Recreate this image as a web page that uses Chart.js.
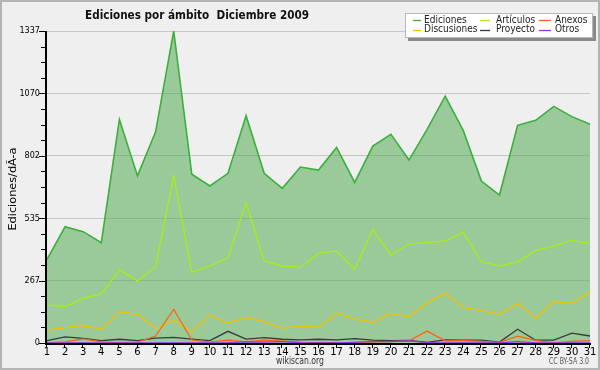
<!DOCTYPE html>
<html><head><meta charset="utf-8">
<script src="https://cdn.jsdelivr.net/npm/chart.js@4/dist/chart.umd.min.js"></script>
<style>html,body{margin:0;padding:0;background:#efeff0;}#wrap{width:600px;height:370px;}</style>
</head><body><div id="wrap"><canvas id="c" width="600" height="370" style="width:600px;height:370px"></canvas></div>
<script>
const days = ['1','2','3','4','5','6','7','8','9','10','11','12','13','14','15','16','17','18','19','20','21','22','23','24','25','26','27','28','29','30','31'];
const ediciones   = [358,498,477,430,958,716,905,1337,723,673,727,974,727,663,754,741,838,688,844,894,784,915,1058,910,694,634,933,954,1014,970,937];
const articulos   = [163,156,191,210,313,266,327,716,303,330,366,601,353,330,324,384,394,316,487,377,424,431,437,474,348,330,348,396,416,440,427];
const discusiones = [56,66,76,59,133,123,62,99,47,120,85,110,92,63,73,67,128,102,89,128,112,172,214,153,139,123,170,106,178,170,218];
const anexos      = [0,5,18,5,0,4,30,144,13,4,12,5,12,8,3,1,0,2,5,6,9,51,9,10,7,3,29,11,0,7,10];
const proyecto    = [10,26,20,10,16,10,21,24,17,10,50,17,23,16,13,16,13,19,12,10,11,3,13,12,12,4,59,12,12,42,30];
const otros       = [0,0,0,0,0,0,0,0,0,0,1,5,4,6,1,0,0,3,6,6,9,2,0,0,0,0,6,0,0,0,0];
const yTickLabels = ['0','267','535','802','1070','1337'];
const seriesNames = ['Ediciones','Discusiones','Artículos','Proyecto','Anexos','Otros'];
const titleText = 'Ediciones por ámbito  Diciembre 2009';
const yAxisTitle = 'Ediciones/dÃ-a';
const footerText = 'wikiscan.org';
const licenseText = 'CC BY-SA 3.0';

const yMax = Number(yTickLabels[yTickLabels.length-1]);
const colors = {
  'Ediciones':'#3caf3c','Discusiones':'#f2c200','Artículos':'#aaee11',
  'Proyecto':'#3a3a3a','Anexos':'#fa6412','Otros':'#9a30f0'
};
const values = {
  'Ediciones':ediciones,'Discusiones':discusiones,'Artículos':articulos,
  'Proyecto':proyecto,'Anexos':anexos,'Otros':otros
};

const datasets = seriesNames.map(n => ({
  label: n,
  data: values[n],
  borderColor: colors[n],
  backgroundColor: n === 'Ediciones' ? 'rgba(69,165,67,0.5)' : colors[n],
  fill: n === 'Ediciones' ? 'origin' : false,
  borderWidth: n === 'Ediciones' ? 1.6 : 1.3,
  pointRadius: 0,
  tension: 0,
  order: n === 'Ediciones' ? 10 : (n === 'Artículos' ? 5 : (n === 'Discusiones' ? 4 : (n === 'Proyecto' ? 3 : (n === 'Anexos' ? 2 : 1))))
}));

function fitText(ctx, text, x, y, width, align) {
  const w = ctx.measureText(text).width;
  const s = width / w;
  ctx.save();
  ctx.translate(x, y);
  ctx.scale(s, 1);
  ctx.textAlign = 'left';
  let ox = 0;
  if (align === 'center') ox = -w / 2;
  else if (align === 'right') ox = -w;
  ctx.fillText(text, ox, 0);
  ctx.restore();
}

const decor = {
  id: 'decor',
  beforeDraw(chart) {
    const ctx = chart.ctx;
    ctx.save();
    ctx.fillStyle = '#efeff0';
    ctx.fillRect(0, 0, chart.width, chart.height);
    ctx.restore();
  },
  afterDatasetsDraw(chart) {
    const ctx = chart.ctx;
    const {left, right, top, bottom} = chart.chartArea;
    const ys = chart.scales.y, xs = chart.scales.x;
    ctx.save();
    ctx.strokeStyle = '#000';
    ctx.lineWidth = 2;
    ctx.beginPath();
    ctx.moveTo(left - 1, top);
    ctx.lineTo(left - 1, bottom + 2);
    ctx.moveTo(left - 2, bottom + 1);
    ctx.lineTo(right + 1, bottom + 1);
    ctx.stroke();
    ctx.lineWidth = 1;
    ctx.beginPath();
    ys.ticks.forEach((t, i) => {
      const py = Math.round(ys.getPixelForTick(i)) + 0.5;
      const len = i % 4 === 0 ? 6 : 4;
      ctx.moveTo(left - 2 - len, py);
      ctx.lineTo(left - 1, py);
    });
    xs.ticks.forEach((t, i) => {
      const px = Math.round(xs.getPixelForTick(i)) - 0.5;
      ctx.moveTo(px, bottom + 1);
      ctx.lineTo(px, bottom + 5);
    });
    ctx.stroke();
    ctx.restore();
  },
  afterDraw(chart) {
    const ctx = chart.ctx;
    ctx.save();
    // title
    ctx.fillStyle = '#111';
    ctx.font = 'bold 13px "DejaVu Sans Condensed", "DejaVu Sans", sans-serif';
    ctx.textBaseline = 'alphabetic';
    fitText(ctx, titleText, 85, 19, 224, 'left');
    // y axis title
    ctx.save();
    ctx.translate(13, 189);
    ctx.rotate(-Math.PI / 2);
    ctx.font = '10px "DejaVu Sans", sans-serif';
    ctx.textBaseline = 'middle';
    ctx.fillStyle = '#000';
    fitText(ctx, yAxisTitle, 0, 0, 83, 'center');
    ctx.restore();
    // footer
    ctx.font = '10px "DejaVu Sans", sans-serif';
    ctx.textBaseline = 'middle';
    ctx.fillStyle = '#333';
    fitText(ctx, footerText, 300, 361, 48, 'center');
    ctx.font = '8px "DejaVu Sans", sans-serif';
    ctx.fillStyle = '#555';
    fitText(ctx, licenseText, 589, 362, 40, 'right');
    // legend
    const bx = 405, by = 13, bw = 188, bh = 25;
    ctx.fillStyle = '#8a8a8a';
    ctx.fillRect(bx + 3, by + 3, bw, bh);
    ctx.fillStyle = '#ffffff';
    ctx.fillRect(bx, by, bw, bh);
    ctx.strokeStyle = '#b8b8b8';
    ctx.lineWidth = 1;
    ctx.strokeRect(bx + 0.5, by + 0.5, bw - 1, bh - 1);
    const cols = [{lx: 413, lw: 8, tx: 424}, {lx: 480, lw: 10, tx: 496}, {lx: 539, lw: 12, tx: 555}];
    const rows = [20, 29.5];
    ctx.font = '10px "DejaVu Sans Condensed", "DejaVu Sans", sans-serif';
    ctx.textBaseline = 'middle';
    chart.data.datasets.forEach((ds, i) => {
      const c = cols[Math.floor(i / 2)], r = rows[i % 2];
      ctx.strokeStyle = ds.borderColor;
      ctx.lineWidth = 1.3;
      ctx.beginPath();
      ctx.moveTo(c.lx, Math.round(r) + 0.5);
      ctx.lineTo(c.lx + c.lw, Math.round(r) + 0.5);
      ctx.stroke();
      ctx.fillStyle = '#222';
      ctx.textAlign = 'left';
      ctx.fillText(ds.label, c.tx, r);
    });
    // border
    ctx.strokeStyle = '#b4b4b4';
    ctx.lineWidth = 2;
    ctx.strokeRect(1, 1, chart.width - 2, chart.height - 2);
    ctx.restore();
  }
};

new Chart(document.getElementById('c'), {
  type: 'line',
  data: { labels: days, datasets: datasets },
  options: {
    responsive: false,
    animation: false,
    devicePixelRatio: 1,
    layout: { padding: { left: 0, right: 10, top: 31, bottom: 0 } },
    plugins: { legend: { display: false }, title: { display: false }, tooltip: { enabled: false } },
    scales: {
      x: {
        type: 'category', offset: false,
        afterFit: s => { s.height = 27; },
        ticks: { autoSkip: false, maxRotation: 0, minRotation: 0, padding: 3, color: '#000',
                 font: { family: '"DejaVu Sans", sans-serif', size: 10 } },
        grid: { display: false, drawTicks: false },
        border: { display: false }
      },
      y: {
        min: 0, max: yMax,
        afterBuildTicks: s => { const t = []; for (let i = 0; i <= 20; i++) t.push({ value: yMax * i / 20 }); s.ticks = t; },
        afterFit: s => { s.width = 47; },
        ticks: { autoSkip: false, padding: 7, color: '#000',
                 font: { family: '"DejaVu Sans Condensed", "DejaVu Sans", sans-serif', size: 9 },
                 callback: (v, i) => (i % 4 === 0 ? yTickLabels[i / 4] : '') },
        grid: { drawTicks: false, lineWidth: 1,
                color: c => ((c.index % 4 === 0 && c.index > 0) ? '#c6c6c6' : 'rgba(0,0,0,0)') },
        border: { display: false }
      }
    }
  },
  plugins: [decor]
});
</script>
</body></html>
